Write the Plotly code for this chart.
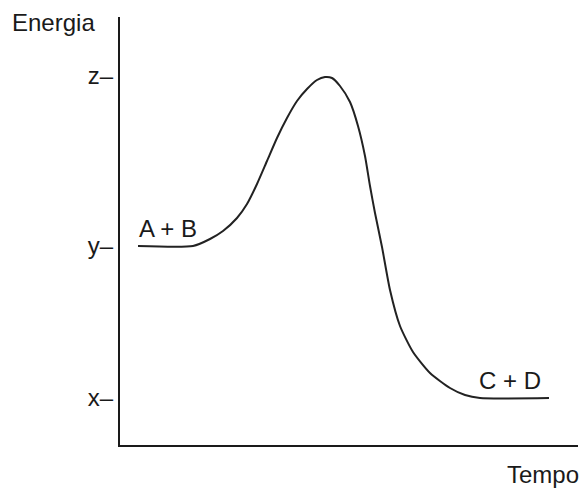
import plotly.graph_objects as go

# Data (time in arbitrary units, energy in arbitrary units)
tempo = [18, 73, 90, 103, 117, 127, 137, 147, 157, 167, 177, 187, 197, 205, 212, 220, 230, 238,
         245, 250, 255, 262, 270, 280, 293, 310, 330, 345, 360, 429]
energia = [199, 199, 206, 214, 227, 241, 261, 284, 307, 327, 344, 356, 365, 368, 367, 359, 343, 319,
           289, 259, 232, 198, 155, 119, 93, 72, 57, 50, 47, 47]

level_values = [47, 199, 369]
level_labels = ["x\u2013", "y\u2013", "z\u2013"]

fig = go.Figure()
fig.add_trace(go.Scatter(
    x=tempo, y=energia, mode="lines",
    line=dict(color="#222222", width=2, shape="spline", smoothing=0.6),
    hoverinfo="skip", showlegend=False,
))

font = dict(family="Liberation Sans, Arial, sans-serif", size=24, color="#1a1a1a")

fig.update_layout(
    width=584, height=488,
    margin=dict(l=120, r=6, t=17, b=43),
    paper_bgcolor="white", plot_bgcolor="white",
    showlegend=False,
    font=font,
    xaxis=dict(range=[0, 458], showline=True, linecolor="#1a1a1a", linewidth=2,
               showgrid=False, zeroline=False, showticklabels=False, ticks=""),
    yaxis=dict(range=[0, 428], showline=True, linecolor="#1a1a1a", linewidth=2,
               showgrid=False, zeroline=False, tickmode="array",
               tickvals=level_values, ticktext=level_labels, ticks="",
               tickfont=font, ticklabelstandoff=0),
    annotations=[
        dict(x=48, y=199, xref="x", yref="y", text="A + B", showarrow=False,
             xanchor="center", yanchor="bottom", yshift=2, font=font),
        dict(x=390, y=47, xref="x", yref="y", text="C + D", showarrow=False,
             xanchor="center", yanchor="bottom", yshift=2, font=font),
        dict(x=-110/458, y=1.0, xref="paper", yref="paper", text="Energia", showarrow=False,
             xanchor="left", yanchor="middle", yshift=-5, font=font),
        dict(x=461/458, y=-0.032, xref="paper", yref="paper", text="Tempo", showarrow=False,
             xanchor="right", yanchor="top", font=font),
    ],
)

fig.write_html(
    "out.html",
    config={"displayModeBar": False},
    post_script="document.body.style.margin='0px';document.body.style.overflow='hidden';",
)
